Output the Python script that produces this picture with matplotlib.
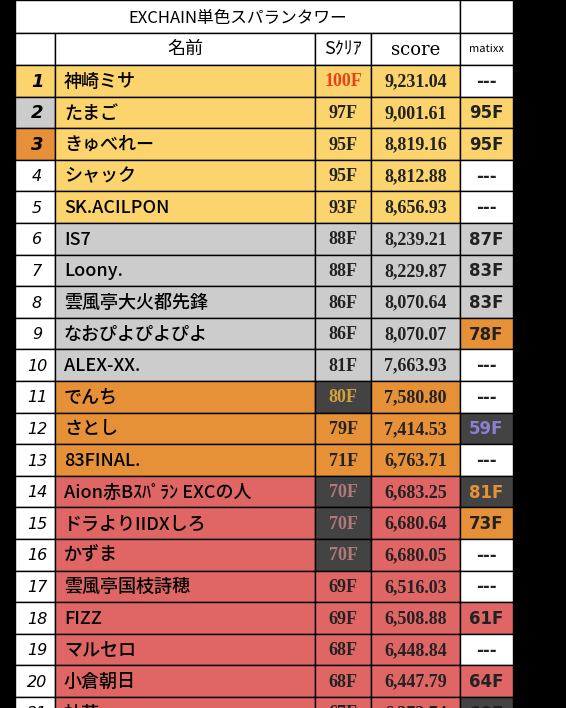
import matplotlib
matplotlib.use('Agg')
import matplotlib.pyplot as plt
from matplotlib.patches import Rectangle

plt.rcParams['font.family'] = ['Noto Sans CJK JP', 'DejaVu Sans']

title = 'EXCHAIN単色スパランタワー'
headers = ['', '名前', 'Sｸﾘｱ', 'score', 'matixx']

ranks = [str(i) for i in range(1, 22)]
names = ['神崎ミサ', 'たまご', 'きゅべれー', 'シャック', 'SK.ACILPON', 'IS7', 'Loony.',
         '雲風亭大火都先鋒', 'なおぴよぴよぴよ', 'ALEX-XX.', 'でんち', 'さとし', '83FINAL.',
         'Aion赤Bｽﾊﾟﾗﾝ EXCの人', 'ドラよりIIDXしろ', 'かずま', '雲風亭国枝詩穂', 'FIZZ',
         'マルセロ', '小倉朝日', '杜若']
s_clear = ['100F', '97F', '95F', '95F', '93F', '88F', '88F', '86F', '86F', '81F', '80F',
           '79F', '71F', '70F', '70F', '70F', '69F', '69F', '68F', '68F', '67F']
scores = ['9,231.04', '9,001.61', '8,819.16', '8,812.88', '8,656.93', '8,239.21', '8,229.87',
          '8,070.64', '8,070.07', '7,663.93', '7,580.80', '7,414.53', '6,763.71', '6,683.25',
          '6,680.64', '6,680.05', '6,516.03', '6,508.88', '6,448.84', '6,447.79', '6,373.74']
matixx = ['---', '95F', '95F', '---', '---', '87F', '83F', '83F', '78F', '---', '---', '59F',
          '---', '81F', '73F', '---', '---', '61F', '---', '64F', '60F']

GOLD, GREY, ORANGE, RED, DARK, WHITE = '#fbd46d', '#cccccc', '#e69138', '#e06666', '#434343', '#ffffff'
row_col = [GOLD] * 5 + [GREY] * 5 + [ORANGE] * 3 + [RED] * 8
rank_col = [GOLD, GREY, ORANGE] + [WHITE] * 18
s_bg = {10: DARK, 13: DARK, 14: DARK, 15: DARK}
s_fg = {0: '#e8401c', 10: '#d6a23a', 13: '#b07a7a', 14: '#b07a7a', 15: '#b07a7a'}
mx_bg = {1: GOLD, 2: GOLD, 5: GREY, 6: GREY, 7: GREY, 8: ORANGE, 11: DARK, 13: DARK,
         14: ORANGE, 17: RED, 19: RED, 20: DARK}
mx_fg = {11: '#8a7fd0', 13: '#e69138'}

cols = [15, 55, 315, 371, 460, 513]
W, H = 566, 708
fig = plt.figure(figsize=(W / 100, H / 100), dpi=100, facecolor='black')
ax = fig.add_axes([0, 0, 1, 1])
ax.set_xlim(0, W)
ax.set_ylim(H, 0)
ax.axis('off')

def cell(x0, x1, y0, y1, color):
    ax.add_patch(Rectangle((x0, y0), x1 - x0, y1 - y0, facecolor=color, edgecolor='black', lw=1))

# タイトルとヘッダー
cell(cols[0], cols[4], 0, 33, WHITE)
cell(cols[4], cols[5], 0, 33, WHITE)
ax.text((cols[0] + cols[4]) / 2, 18, title, ha='center', va='center', fontsize=12)
hx = [(cols[j] + cols[j + 1]) / 2 for j in range(5)]
for j in range(5):
    cell(cols[j], cols[j + 1], 33, 65, WHITE)
ax.text(hx[1], 49, headers[1], ha='center', va='center', fontsize=13)
ax.text(hx[2], 49, headers[2], ha='center', va='center', fontsize=13)
ax.text(hx[3], 50, headers[3], ha='center', va='center', fontsize=13, family='DejaVu Serif')
ax.text(hx[4], 49, headers[4], ha='center', va='center', fontsize=8)

rh = 31.6
for i in range(len(ranks)):
    y0 = 65 + i * rh
    y1 = y0 + rh
    yc = (y0 + y1) / 2 + 1
    cell(cols[0], cols[1], y0, y1, rank_col[i])
    ax.text(37, yc, ranks[i], ha='center', va='center', fontsize=13 if i < 3 else 11.5,
            style='italic', weight='bold' if i < 3 else 'normal', family='DejaVu Sans')
    cell(cols[1], cols[2], y0, y1, row_col[i])
    ax.text(cols[1] + 9, yc, names[i], ha='left', va='center', fontsize=13, weight='medium')
    cell(cols[2], cols[3], y0, y1, s_bg.get(i, row_col[i]))
    ax.text(hx[2], yc, s_clear[i], ha='center', va='center', fontsize=13, weight='bold',
            family='Liberation Serif', color=s_fg.get(i, '#222222'))
    cell(cols[3], cols[4], y0, y1, row_col[i])
    ax.text(hx[3], yc, scores[i], ha='center', va='center', fontsize=13, weight='bold',
            family='Liberation Serif', color='#222222')
    cell(cols[4], cols[5], y0, y1, mx_bg.get(i, WHITE))
    ax.text(hx[4], yc, matixx[i], ha='center', va='center', fontsize=12, weight='bold',
            color=mx_fg.get(i, '#222222'), family='DejaVu Sans')

fig.savefig('out.png', dpi=100, facecolor='black')
